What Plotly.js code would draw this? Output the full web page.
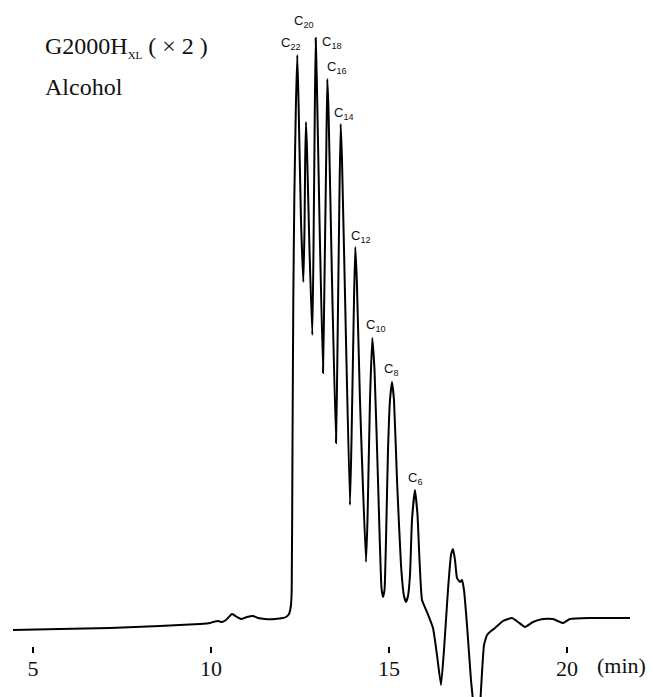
<!DOCTYPE html>
<html>
<head>
<meta charset="utf-8">
<script src="https://cdn.plot.ly/plotly-3.0.1.min.js"></script>
<style>html,body{margin:0;padding:0;background:#fff;}#chart{width:653px;height:697px;}</style>
</head>
<body>
<div id="chart"></div>
<script>
// Retention time (min)
var timeMin = [4.438,5.758,7.163,8.567,9.691,9.972,10.056,10.197,10.309,10.421,10.590,10.730,10.843,11.011,11.180,11.320,11.517,11.798,12.022,12.107,12.191,12.247,12.267,12.289,12.312,12.340,12.382,12.424,12.458,12.528,12.593,12.626,12.646,12.669,12.697,12.767,12.846,12.879,12.916,12.941,12.972,13.048,13.146,13.188,13.239,13.267,13.301,13.399,13.511,13.553,13.610,13.643,13.680,13.792,13.904,13.947,14.017,14.053,14.096,14.185,14.354,14.396,14.466,14.531,14.593,14.691,14.789,14.831,14.874,14.916,14.972,15.028,15.084,15.140,15.225,15.337,15.421,15.478,15.534,15.590,15.646,15.730,15.801,15.857,15.927,16.067,16.236,16.348,16.461,16.545,16.657,16.742,16.798,16.854,16.910,16.994,17.051,17.107,17.191,17.303,17.416,17.500,17.584,17.669,17.753,17.865,17.978,18.202,18.455,18.624,18.820,19.045,19.326,19.607,19.888,20.084,20.646,21.770];
// Detector response (arbitrary units)
var response = [-1.2,-1.1,-1.0,-0.8,-0.6,-0.5,-0.4,-0.3,-0.4,-0.2,0.4,0.1,-0.1,0.1,0.2,0.0,-0.1,-0.1,0.0,0.1,0.4,1.3,2.8,16.8,31.8,41.8,50.8,56.3,51.8,39.8,33.6,38.8,45.8,49.6,46.8,36.8,28.3,36.8,50.8,58.0,53.8,39.8,24.5,33.8,46.8,53.9,50.8,33.8,17.5,26.8,42.8,49.4,45.8,27.8,11.3,17.8,31.8,37.1,33.8,21.8,5.6,9.8,21.8,28.0,24.8,13.8,3.0,2.1,2.8,7.8,16.8,21.8,23.6,21.8,13.8,5.3,2.2,1.6,2.2,4.3,9.8,12.8,10.3,5.8,1.8,0.6,-1.0,-3.7,-6.7,-3.2,2.8,6.3,6.9,5.8,4.0,3.6,3.8,2.8,-0.7,-6.2,-10.2,-12.7,-7.2,-2.7,-1.7,-1.3,-1.0,-0.3,0.0,-0.4,-0.9,-0.4,-0.1,-0.1,-0.5,-0.1,0.0,0.0];

// Peak labels
var peakNames = ["22","20","18","16","14","12","10","8","6"];
var labelTime = [12.247,12.612,13.399,13.539,13.736,14.213,14.635,15.056,15.730];
var labelLevel = [57.5,59.7,57.6,55.1,50.5,38.2,29.3,24.9,14.0];

// Axis ticks
var tickValues = [5,10,15,20];
var tickLabels = ["5","10","15","20"];

var serif = "Liberation Serif, Times New Roman, serif";

var annotations = [];
for (var i = 0; i < peakNames.length; i++) {
  annotations.push({
    x: labelTime[i], y: labelLevel[i], xref: 'x', yref: 'y',
    text: 'C<sub>' + peakNames[i] + '</sub>', showarrow: false,
    xanchor: 'center', yanchor: 'middle',
    font: {family: 'Liberation Sans, Arial, sans-serif', size: 13, color: '#111'}
  });
}
annotations.push({
  x: 0.0654, y: 0.9326, xref: 'paper', yref: 'paper', xanchor: 'left', yanchor: 'middle',
  text: 'G2000H<sub><span style="font-size:11px">XL</span></sub> ( × 2 )', showarrow: false,
  font: {family: serif, size: 24, color: '#111'}
});
annotations.push({
  x: 0.0654, y: 0.8752, xref: 'paper', yref: 'paper', xanchor: 'left', yanchor: 'middle',
  text: 'Alcohol', showarrow: false,
  font: {family: serif, size: 24, color: '#111'}
});
annotations.push({
  x: 0.951, y: 0.0445, xref: 'paper', yref: 'paper', xanchor: 'center', yanchor: 'middle',
  text: '(min)', showarrow: false,
  font: {family: serif, size: 22, color: '#111'}
});

var trace = {
  x: timeMin, y: response, type: 'scatter', mode: 'lines',
  line: {color: '#000', width: 2, shape: 'spline', smoothing: 0.4},
  hoverinfo: 'skip'
};

var layout = {
  width: 653, height: 697,
  margin: {l: 0, r: 0, t: 0, b: 0, pad: 0},
  paper_bgcolor: '#fff', plot_bgcolor: '#fff',
  showlegend: false,
  xaxis: {
    range: [4.073, 22.416], anchor: 'free', position: 0.0732,
    showline: false, zeroline: false, showgrid: false,
    ticks: 'outside', ticklen: 6, tickwidth: 1.5, tickcolor: '#000',
    ticklabelstandoff: -3,
    tickmode: 'array', tickvals: tickValues, ticktext: tickLabels,
    tickfont: {family: serif, size: 22, color: '#111'},
    automargin: false, fixedrange: true
  },
  yaxis: {
    range: [-7.9, 61.8], visible: false, fixedrange: true
  },
  annotations: annotations
};

Plotly.newPlot('chart', [trace], layout, {displayModeBar: false, staticPlot: true});
</script>
</body>
</html>
